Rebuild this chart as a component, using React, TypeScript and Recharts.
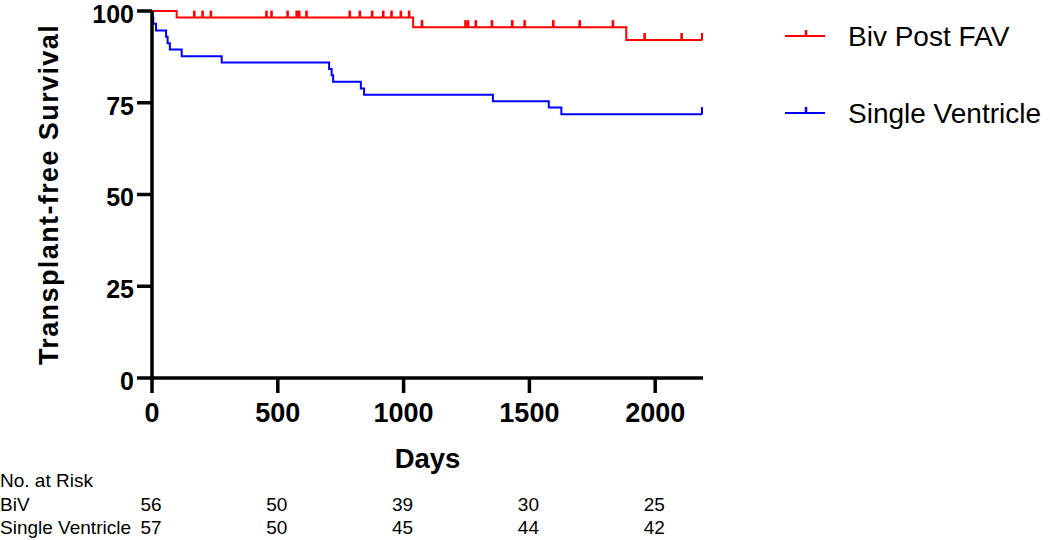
import React from 'react';
import { ComposedChart, Line, XAxis, YAxis, Legend } from 'recharts';

// ---- Data ----
// Kaplan-Meier points: day, survival %, censored flag (1 = censor mark)
const bivData = [
  { day: 0, surv: 100, c: 0 },
  { day: 98, surv: 98.2, c: 0 },
  { day: 168, surv: 98.2, c: 1 },
  { day: 201, surv: 98.2, c: 1 },
  { day: 234, surv: 98.2, c: 1 },
  { day: 455, surv: 98.2, c: 1 },
  { day: 475, surv: 98.2, c: 1 },
  { day: 539, surv: 98.2, c: 1 },
  { day: 575, surv: 98.2, c: 1 },
  { day: 585, surv: 98.2, c: 1 },
  { day: 614, surv: 98.2, c: 1 },
  { day: 786, surv: 98.2, c: 1 },
  { day: 826, surv: 98.2, c: 1 },
  { day: 875, surv: 98.2, c: 1 },
  { day: 919, surv: 98.2, c: 1 },
  { day: 952, surv: 98.2, c: 1 },
  { day: 989, surv: 98.2, c: 1 },
  { day: 1022, surv: 98.2, c: 1 },
  { day: 1038, surv: 95.6, c: 0 },
  { day: 1073, surv: 95.6, c: 1 },
  { day: 1246, surv: 95.6, c: 1 },
  { day: 1256, surv: 95.6, c: 1 },
  { day: 1287, surv: 95.6, c: 1 },
  { day: 1351, surv: 95.6, c: 1 },
  { day: 1432, surv: 95.6, c: 1 },
  { day: 1481, surv: 95.6, c: 1 },
  { day: 1595, surv: 95.6, c: 1 },
  { day: 1700, surv: 95.6, c: 1 },
  { day: 1832, surv: 95.6, c: 1 },
  { day: 1885, surv: 92.1, c: 0 },
  { day: 1958, surv: 92.1, c: 1 },
  { day: 2105, surv: 92.1, c: 1 },
  { day: 2187, surv: 92.1, c: 1 },
];

const svData = [
  { day: 0, surv: 100, c: 0 },
  { day: 2, surv: 98.2, c: 0 },
  { day: 5, surv: 96.5, c: 0 },
  { day: 16, surv: 94.7, c: 0 },
  { day: 56, surv: 93.0, c: 0 },
  { day: 62, surv: 91.2, c: 0 },
  { day: 71, surv: 89.5, c: 0 },
  { day: 118, surv: 87.7, c: 0 },
  { day: 277, surv: 86.0, c: 0 },
  { day: 704, surv: 84.2, c: 0 },
  { day: 714, surv: 82.5, c: 0 },
  { day: 720, surv: 80.7, c: 0 },
  { day: 830, surv: 78.9, c: 0 },
  { day: 843, surv: 77.2, c: 0 },
  { day: 1355, surv: 75.4, c: 0 },
  { day: 1577, surv: 73.7, c: 0 },
  { day: 1627, surv: 71.9, c: 0 },
  { day: 2187, surv: 71.9, c: 1 },
];

const xTicks = [0, 500, 1000, 1500, 2000];
const yTicks = [0, 25, 50, 75, 100];
const bivRisk = [56, 50, 39, 30, 25];
const svRisk = [57, 50, 45, 44, 42];
const riskRowLabels = ['No. at Risk', 'BiV', 'Single Ventricle'];

const seriesNames = ['Biv Post FAV', 'Single Ventricle'];
const seriesColors = ['#ff0000', '#0000ff'];

const FONT = '"Liberation Sans", Arial, Helvetica, sans-serif';

const makeCensorDot = (color: string) => (props: any) => {
  const { cx, cy, payload, index } = props;
  if (!payload || !payload.c || cx == null || cy == null) {
    return <g key={`nd-${index}`} />;
  }
  return (
    <line
      key={`cd-${index}`}
      x1={cx}
      x2={cx}
      y1={cy}
      y2={cy - 7}
      stroke={color}
      strokeWidth={2.6}
    />
  );
};

const XTick = (props: any) => {
  const { x, y, payload } = props;
  const i = xTicks.indexOf(payload.value);
  return (
    <g>
      <text x={x} y={y + 29} textAnchor="middle" fontSize={27} fontWeight="bold" fill="#000">
        {payload.value}
      </text>
      {i === 0 && (
        <g fontSize={19} fill="#000">
          <text x={0} y={y + 94} textAnchor="start">{riskRowLabels[0]}</text>
          <text x={0} y={y + 118} textAnchor="start">{riskRowLabels[1]}</text>
          <text x={0} y={y + 141} textAnchor="start">{riskRowLabels[2]}</text>
        </g>
      )}
      <text x={x - 1} y={y + 118} textAnchor="middle" fontSize={19} fill="#000">
        {bivRisk[i]}
      </text>
      <text x={x - 1} y={y + 141} textAnchor="middle" fontSize={19} fill="#000">
        {svRisk[i]}
      </text>
    </g>
  );
};

const DaysLabel = (props: any) => {
  const vb = props.viewBox || {};
  const cx = (vb.x ?? 152) + (vb.width ?? 551) / 2;
  const top = vb.y ?? 378;
  return (
    <text x={cx} y={top + 90} textAnchor="middle" fontSize={27.5} fontWeight="bold" fill="#000">
      Days
    </text>
  );
};

const YLabel = (props: any) => {
  const vb = props.viewBox || {};
  const cy = (vb.y ?? 11) + (vb.height ?? 367) / 2;
  const x = 58;
  return (
    <text
      x={x}
      y={cy}
      transform={`rotate(-90, ${x}, ${cy})`}
      textAnchor="middle"
      fontSize={27}
      fontWeight="bold"
      letterSpacing={1.4}
      fill="#000"
    >
      Transplant-free Survival
    </text>
  );
};

const LegendContent = () => {
  const rows = [36, 113];
  return (
    <svg width={270} height={140} style={{ display: 'block' }}>
      {seriesNames.map((name, i) => (
        <g key={name}>
          <line x1={5} x2={45} y1={rows[i]} y2={rows[i]} stroke={seriesColors[i]} strokeWidth={2} />
          <line x1={26} x2={26} y1={rows[i]} y2={rows[i] - 6} stroke={seriesColors[i]} strokeWidth={2.5} />
          <text x={68} y={rows[i] + 10} fontSize={28} fill="#000">
            {name}
          </text>
        </g>
      ))}
    </svg>
  );
};

export default function App() {
  return (
    <div style={{ position: 'absolute', left: 0, top: 0, width: 1050, height: 540, background: '#fff', fontFamily: FONT }}>
      <ComposedChart
        width={1050}
        height={540}
        margin={{ top: 11, right: 347, bottom: 0, left: 0 }}
        style={{ fontFamily: FONT }}
      >
        <XAxis
          type="number"
          dataKey="day"
          domain={[0, 2190]}
          ticks={xTicks}
          interval={0}
          allowDataOverflow
          height={162}
          tickSize={15}
          tickMargin={0}
          axisLine={{ stroke: '#000', strokeWidth: 3.5 }}
          tickLine={{ stroke: '#000', strokeWidth: 3.5 }}
          tick={<XTick />}
          label={<DaysLabel />}
        />
        <YAxis
          type="number"
          dataKey="surv"
          domain={[0, 100]}
          ticks={yTicks}
          interval={0}
          width={152}
          tickSize={15}
          tickMargin={3}
          axisLine={{ stroke: '#000', strokeWidth: 3.5 }}
          tickLine={{ stroke: '#000', strokeWidth: 3.5 }}
          tick={{ fontSize: 25, fontWeight: 'bold', fill: '#000', dy: 3 }}
          label={<YLabel />}
        />
        <Legend
          layout="horizontal"
          verticalAlign="middle"
          align="center"
          content={<LegendContent />}
          wrapperStyle={{ position: 'absolute', left: 780, top: 0, width: 270, height: 140 }}
        />
        <Line
          data={svData}
          type="stepAfter"
          dataKey="surv"
          name={seriesNames[1]}
          stroke={seriesColors[1]}
          strokeWidth={2}
          dot={makeCensorDot(seriesColors[1])}
          activeDot={false}
          isAnimationActive={false}
        />
        <Line
          data={bivData}
          type="stepAfter"
          dataKey="surv"
          name={seriesNames[0]}
          stroke={seriesColors[0]}
          strokeWidth={2}
          dot={makeCensorDot(seriesColors[0])}
          activeDot={false}
          isAnimationActive={false}
        />
      </ComposedChart>
    </div>
  );
}
